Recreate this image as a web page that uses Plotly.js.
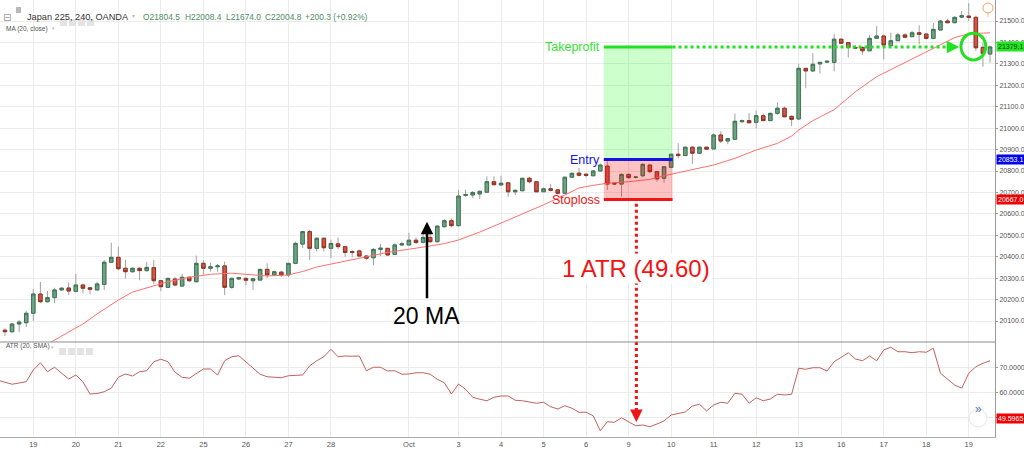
<!DOCTYPE html>
<html><head><meta charset="utf-8">
<script src="https://cdn.plot.ly/plotly-3.0.1.min.js"></script>
<style>html,body{margin:0;padding:0;background:#fff;overflow:hidden}#chart{width:1024px;height:451px}</style>
</head><body><div id="chart"></div>
<script>
// ---------------- DATA ----------------
const firstBarIdx = -4;   // bar index of the first visible 4h candle (bar 0 = first bar of Sep 19)
const opens  = [20057,20050,20086,20092,20136,20226,20190,20209,20245,20254,20238,20268,20255,20245,20271,20374,20397,20346,20330,20346,20335,20349,20288,20257,20296,20263,20304,20283,20369,20346,20353,20357,20257,20296,20299,20288,20291,20341,20315,20328,20315,20369,20459,20517,20439,20486,20439,20460,20447,20424,20427,20403,20395,20434,20439,20411,20455,20455,20477,20467,20490,20470,20540,20568,20545,20686,20688,20693,20701,20750,20735,20745,20703,20708,20766,20750,20703,20717,20712,20696,20771,20790,20785,20778,20800,20823,20742,20739,20784,20770,20778,20828,20797,20766,20817,20878,20872,20911,20883,20911,20903,20968,20940,20948,21030,21035,21027,21058,21035,21069,21093,21055,21043,21279,21267,21300,21308,21307,21415,21399,21376,21376,21361,21419,21430,21385,21408,21435,21427,21445,21439,21419,21458,21500,21492,21518,21523,21517,21377,21346];
const highs  = [20066,20090,20105,20148,20250,20282,20240,20255,20258,20280,20319,20275,20258,20283,20385,20465,20447,20385,20350,20350,20375,20385,20290,20302,20305,20320,20309,20405,20384,20372,20366,20377,20302,20305,20302,20298,20343,20369,20335,20332,20372,20470,20520,20525,20490,20490,20480,20490,20450,20430,20433,20408,20440,20460,20440,20462,20470,20512,20490,20520,20509,20543,20575,20579,20712,20712,20706,20711,20775,20775,20778,20746,20712,20766,20772,20752,20722,20740,20716,20771,20795,20815,20788,20805,20835,20845,20746,20790,20790,20774,20836,20832,20800,20820,20878,20929,20914,20915,20914,20914,20975,20985,20955,21068,21040,21070,21082,21068,21072,21120,21100,21058,21300,21280,21350,21310,21314,21440,21420,21400,21388,21382,21435,21476,21437,21445,21445,21443,21455,21480,21441,21491,21505,21510,21522,21547,21583,21525,21399,21385];
const lows   = [20030,20045,20048,20072,20100,20183,20185,20183,20240,20222,20237,20230,20225,20243,20245,20371,20338,20299,20325,20290,20330,20272,20240,20255,20262,20260,20283,20282,20316,20330,20330,20221,20250,20292,20265,20245,20289,20300,20310,20305,20305,20365,20440,20385,20425,20425,20394,20435,20400,20397,20398,20385,20360,20403,20403,20410,20450,20452,20460,20462,20465,20468,20537,20537,20540,20680,20673,20669,20698,20733,20732,20680,20688,20705,20742,20703,20703,20705,20690,20694,20769,20775,20770,20775,20795,20711,20735,20680,20764,20764,20770,20790,20750,20745,20815,20859,20870,20833,20880,20898,20902,20930,20925,20945,21025,21023,20999,21033,21033,21063,21053,21010,21040,21186,21265,21255,21305,21265,21396,21330,21370,21342,21360,21418,21321,21383,21406,21423,21424,21391,21414,21416,21455,21490,21490,21515,21500,21360,21287,21305];
const closes = [20050,20086,20095,20136,20226,20190,20209,20245,20253,20240,20268,20253,20248,20273,20374,20397,20344,20330,20346,20335,20350,20288,20260,20299,20268,20304,20288,20369,20346,20353,20357,20257,20299,20303,20290,20297,20341,20315,20330,20315,20369,20462,20517,20439,20486,20442,20462,20447,20420,20420,20403,20393,20434,20440,20408,20455,20460,20477,20466,20490,20470,20543,20568,20545,20683,20690,20700,20705,20750,20736,20743,20703,20710,20766,20750,20703,20717,20710,20696,20771,20789,20780,20780,20800,20828,20739,20740,20784,20769,20772,20831,20797,20763,20820,20878,20872,20911,20883,20911,20902,20968,20940,20951,21032,21035,21025,21058,21035,21069,21093,21053,21041,21279,21267,21298,21307,21312,21415,21396,21376,21374,21361,21419,21430,21388,21408,21435,21424,21445,21438,21419,21461,21500,21492,21517,21525,21517,21375,21349,21379];

// 20-period moving average
const maIdx  = [-4,2,5,7,9,12,14,17,19,22,25,28,31,33,36,38,40,45,50,55,58,60,63,66,69,72,75,77,79,81,84,87,90,93,96,99,102,105,107,108,110,113,116,119,122,125,128,130,132,135];
const maVals = [19880,19993,20049,20086,20133,20198,20235,20265,20283,20304,20318,20323,20315,20310,20315,20331,20352,20387,20420,20445,20461,20478,20515,20557,20599,20642,20688,20721,20733,20743,20750,20761,20785,20806,20828,20859,20898,20929,20963,20991,21035,21086,21170,21240,21290,21340,21389,21422,21441,21445];

// ATR(20, SMA) per bar, starting one bar before the first candle
const atrFirstIdx = -5;
const atrVals = [64.8,64.0,63.2,63.7,64.2,68.9,71.8,68.2,70.0,67.6,65.3,66.9,64.2,59.3,59.5,60.2,61.6,66.0,67.3,66.5,68.2,68.6,72.2,73.2,72.2,68.0,66.0,65.6,67.6,69.3,69.3,66.9,72.6,74.2,74.6,72.2,69.6,67.2,66.2,66.0,65.8,66.6,66.8,66.9,70.6,72.6,74.2,77.2,74.2,74.5,74.4,74.5,68.6,70.0,70.0,68.5,68.6,67.2,67.3,67.8,67.8,67.2,65.2,63.8,59.3,63.3,61.2,58.0,57.2,56.6,58.0,58.5,58.5,56.8,56.6,56.0,55.6,56.0,54.2,53.3,54.6,53.6,52.0,52.0,50.6,44.6,48.2,48.0,49.8,48.2,46.6,46.9,46.2,47.3,48.5,50.9,51.6,52.1,54.5,55.2,52.5,54.9,56.0,55.6,59.6,59.2,55.6,57.8,56.6,57.3,59.2,58.9,59.2,69.6,69.2,69.8,69.8,68.5,72.2,74.0,75.8,73.3,72.6,74.5,72.6,76.9,78.0,76.2,76.2,75.8,76.2,76.0,77.6,67.6,65.2,62.9,61.6,67.6,70.2,71.6,72.6];

// day labels on the time axis (bar index of first bar of each day)
const dayTickIdx  = [0,6,12,18,24,30,36,42,53,60,66,72,78,84,90,96,102,108,114,120,126,132];
const dayTickText = ['19','20','21','22','25','26','27','28','Oct','3','4','5','6','9','10','11','12','13','16','17','18','19'];

// ATR axis ticks (50 level is hidden behind the red value tag)
const atrTickVals = [50, 60, 70];
const atrTickText = ['', '60.0000', '70.0000'];

// trade set-up
const takeProfit = 21379.1, entryPrice = 20853.1, stopLoss = 20667.0;
const atrAtEntry = 49.5965, atrText = '1 ATR (49.60)';
const tradeStartIdx = 80.5, tradeEndIdx = 90.2, tpArrowIdx = 130.66, slDropIdx = 85.1, atrArrowTip = 48.1;
const circleIdx = [130.9, 134.4], circlePrice = [21318, 21443];
const maArrowIdx = 55.55, maArrowTip = 20563, maTextPrice = 20123, atrTextPrice = 20343;

const priceRange = [20002, 21598];
const atrRange = [42.1, 80.1];

// header
const symbolText = 'Japan 225, 240, OANDA';
const ohlcText = ['O21804.5','H22008.4','L21674.0','C22004.8','+200.3 (+0.92%)'];
const ohlcX = [141,183,224,263,303];

// ---------------- BUILD ----------------
const bars = closes.map((_, i) => i + firstBarIdx);
const atrX = atrVals.map((_, i) => i + atrFirstIdx);
const bodyHigh = opens.map((o, i) => Math.max(o, closes[i]));
const bodyLow  = opens.map((o, i) => Math.min(o, closes[i]));
const priceTicks = [];
for (let p = 20100; p <= 21600; p += 100) priceTicks.push(p);

const FONT = 'Liberation Sans, Arial, sans-serif';
const PW = 995, PH = 437;
const px = v => v / PW, py = v => 1 - v / PH;

const wickTrace = {
  type: 'candlestick', x: bars, open: opens, high: highs, low: lows, close: closes,
  increasing: {line: {color: '#a0a0a0', width: 1}, fillcolor: '#a0a0a0'},
  decreasing: {line: {color: '#a0a0a0', width: 1}, fillcolor: '#a0a0a0'},
  hoverinfo: 'skip', showlegend: false, xaxis: 'x', yaxis: 'y'
};
const bodyTrace = {
  type: 'candlestick', x: bars, open: opens, high: bodyHigh, low: bodyLow, close: closes,
  increasing: {line: {color: '#3f7454', width: 1}, fillcolor: '#6ba583'},
  decreasing: {line: {color: '#8e3325', width: 1}, fillcolor: '#d75442'},
  hoverinfo: 'skip', showlegend: false, xaxis: 'x', yaxis: 'y'
};
const maTrace = {type: 'scatter', mode: 'lines', x: maIdx, y: maVals, line: {color: '#ff6f6f', width: 1}, hoverinfo: 'skip', showlegend: false, xaxis: 'x', yaxis: 'y'};
const atrTrace = {type: 'scatter', mode: 'lines', x: atrX, y: atrVals, line: {color: '#c0625c', width: 1}, hoverinfo: 'skip', showlegend: false, xaxis: 'x', yaxis: 'y2'};

const GREEN = '#22e022', BLUE = '#1414e6', RED = '#f01414';
const shapes = [
  {type: 'rect', xref: 'x', yref: 'y', x0: tradeStartIdx, x1: tradeEndIdx, y0: entryPrice, y1: takeProfit, fillcolor: 'rgba(0,255,0,0.2)', line: {width: 0}, layer: 'between'},
  {type: 'rect', xref: 'x', yref: 'y', x0: tradeStartIdx, x1: tradeEndIdx, y0: stopLoss, y1: entryPrice, fillcolor: 'rgba(255,0,0,0.24)', line: {width: 0}, layer: 'above'},
  {type: 'line', xref: 'x', yref: 'y', x0: tradeStartIdx, x1: tradeEndIdx, y0: takeProfit, y1: takeProfit, line: {color: GREEN, width: 3}},
  {type: 'line', xref: 'x', yref: 'y', x0: tradeEndIdx, x1: tpArrowIdx - 1, y0: takeProfit, y1: takeProfit, line: {color: GREEN, width: 3, dash: 'dot'}},
  {type: 'line', xref: 'x', yref: 'y', x0: tradeStartIdx, x1: tradeEndIdx, y0: entryPrice, y1: entryPrice, line: {color: BLUE, width: 3}},
  {type: 'line', xref: 'x', yref: 'y', x0: tradeStartIdx, x1: tradeEndIdx, y0: stopLoss, y1: stopLoss, line: {color: RED, width: 3}},
  {type: 'circle', xref: 'x', yref: 'y', x0: circleIdx[0], x1: circleIdx[1], y0: circlePrice[0], y1: circlePrice[1], line: {color: GREEN, width: 3}},
  {type: 'line', xref: 'x', yref: 'y', x0: slDropIdx, x1: slDropIdx, y0: stopLoss - 20, y1: priceRange[0], line: {color: RED, width: 3, dash: 'dot'}},
  {type: 'line', xref: 'x', yref: 'y2', x0: slDropIdx, x1: slDropIdx, y0: atrRange[1], y1: atrArrowTip + 2, line: {color: RED, width: 3, dash: 'dot'}},
  {type: 'line', xref: 'paper', yref: 'y2 domain', x0: 0, x1: 1, y0: 1, y1: 1, line: {color: '#8c8c8c', width: 1}},
  // header icons
  {type: 'rect', xref: 'paper', yref: 'paper', x0: px(16), x1: px(21), y0: py(13), y1: py(7), fillcolor: '#b8b8b8', line: {width: 0}},
  {type: 'circle', xref: 'paper', yref: 'paper', x0: px(983), x1: px(993), y0: py(13), y1: py(3), line: {color: '#f3a368', width: 1}},
  {type: 'circle', xref: 'paper', yref: 'paper', x0: px(969), x1: px(987), y0: py(427), y1: py(409), fillcolor: '#ffffff', line: {color: '#e6e6e6', width: 1}}
];
[60, 69, 78, 87].forEach(x => shapes.push({type: 'rect', xref: 'paper', yref: 'paper', x0: px(x), x1: px(x + 7), y0: py(26), y1: py(19), fillcolor: '#e3e3e3', line: {width: 0}}));
[59, 68, 77, 86].forEach(x => shapes.push({type: 'rect', xref: 'paper', yref: 'paper', x0: px(x), x1: px(x + 7), y0: py(355), y1: py(348), fillcolor: '#e3e3e3', line: {width: 0}}));

const txt = (text, x, y, opts) => Object.assign({text, x, y, showarrow: false, font: {family: FONT, size: 12, color: '#333'}}, opts);
const annotations = [
  txt('Takeprofit', tradeStartIdx, takeProfit, {xref: 'x', yref: 'y', xanchor: 'right', xshift: -2, font: {family: FONT, size: 12.5, color: '#35e035'}}),
  txt('Entry', tradeStartIdx, entryPrice, {xref: 'x', yref: 'y', xanchor: 'right', xshift: -2, font: {family: FONT, size: 12.5, color: BLUE}}),
  txt('Stoploss', tradeStartIdx, stopLoss, {xref: 'x', yref: 'y', xanchor: 'right', xshift: -2, font: {family: FONT, size: 12.5, color: RED}}),
  txt(atrText, slDropIdx, atrTextPrice, {xref: 'x', yref: 'y', xanchor: 'center', yanchor: 'middle', bgcolor: '#ffffff', font: {family: FONT, size: 24, color: RED}}),
  txt('20 MA', maArrowIdx, maTextPrice, {xref: 'x', yref: 'y', xanchor: 'center', yanchor: 'middle', font: {family: FONT, size: 23, color: '#000'}}),
  {xref: 'x', yref: 'y', x: maArrowIdx, y: maArrowTip, ax: 0, ay: 78, text: '', showarrow: true, arrowhead: 2, arrowsize: 1, arrowwidth: 2.5, arrowcolor: '#000'},
  {xref: 'x', yref: 'y', x: tpArrowIdx, y: takeProfit, ax: -12, ay: 0, text: '', showarrow: true, arrowhead: 2, arrowsize: 1, arrowwidth: 2.5, arrowcolor: GREEN},
  {xref: 'x', yref: 'y2', x: slDropIdx, y: atrArrowTip, ax: 0, ay: -10, text: '', showarrow: true, arrowhead: 2, arrowsize: 1, arrowwidth: 2.5, arrowcolor: RED},
  // right-axis price labels
  txt(takeProfit.toFixed(1), 1, takeProfit, {xref: 'paper', yref: 'y', xanchor: 'left', xshift: 1, bgcolor: '#22e622', borderpad: 1, font: {family: FONT, size: 7, color: '#1a3a1a'}}),
  txt(entryPrice.toFixed(1), 1, entryPrice, {xref: 'paper', yref: 'y', xanchor: 'left', xshift: 1, bgcolor: '#0000f0', borderpad: 1, font: {family: FONT, size: 7, color: '#fff'}}),
  txt(stopLoss.toFixed(1), 1, stopLoss, {xref: 'paper', yref: 'y', xanchor: 'left', xshift: 1, bgcolor: '#f00000', borderpad: 1, font: {family: FONT, size: 7, color: '#fff'}}),
  txt(atrAtEntry.toFixed(4), 1, atrAtEntry, {xref: 'paper', yref: 'y2', xanchor: 'left', xshift: 1, bgcolor: '#f00000', borderpad: 1, font: {family: FONT, size: 7, color: '#fff'}}),
  // header text
  txt('⊟', px(7), py(10), {xref: 'paper', yref: 'paper', xanchor: 'center', font: {family: 'DejaVu Sans', size: 10, color: '#999'}}),
  txt(symbolText, px(25), py(10), {xref: 'paper', yref: 'paper', xanchor: 'left', font: {family: FONT, size: 9.2, color: '#333'}}),
  txt('▾', px(133), py(10), {xref: 'paper', yref: 'paper', xanchor: 'center', font: {family: 'DejaVu Sans', size: 6, color: '#bbb'}}),
  txt('MA (20, close)', px(4), py(22.5), {xref: 'paper', yref: 'paper', xanchor: 'left', font: {family: FONT, size: 6.5, color: '#555'}}),
  txt('▾', px(53), py(22.5), {xref: 'paper', yref: 'paper', xanchor: 'center', font: {family: 'DejaVu Sans', size: 5, color: '#bbb'}}),
  txt('ATR (20, SMA)', px(4), py(351.5), {xref: 'paper', yref: 'paper', xanchor: 'left', font: {family: FONT, size: 6.5, color: '#555'}}),
  txt('▾', px(52), py(351.5), {xref: 'paper', yref: 'paper', xanchor: 'center', font: {family: 'DejaVu Sans', size: 5, color: '#bbb'}}),
  txt('!', px(988), py(8), {xref: 'paper', yref: 'paper', xanchor: 'center', font: {family: FONT, size: 8, color: '#f3a368'}}),
  txt('»', px(978), py(417.5), {xref: 'paper', yref: 'paper', xanchor: 'center', font: {family: FONT, size: 12, color: '#5a78a8'}})
];
ohlcText.forEach((t, i) => annotations.push(txt(t, px(ohlcX[i]), py(10), {xref: 'paper', yref: 'paper', xanchor: 'left', font: {family: FONT, size: 8.4, color: '#4e8d61'}})));

const axisFont = {family: FONT, size: 7, color: '#555'};
const GRID = '#ececec';
const layout = {
  width: 1024, height: 451,
  margin: {l: 0, r: 29, t: 0, b: 14, pad: 0},
  paper_bgcolor: '#fff', plot_bgcolor: '#fff',
  showlegend: false, dragmode: false,
  xaxis: {range: [-4.7, 135.7], anchor: 'y2', tickvals: dayTickIdx, ticktext: dayTickText, tickfont: {family: FONT, size: 7.5, color: '#555'},
          showgrid: true, gridcolor: GRID, zeroline: false, showline: true, linecolor: '#aaa', ticks: '',
          rangeslider: {visible: false}, fixedrange: true},
  yaxis: {domain: [0.2174, 1], side: 'right', range: priceRange, tickvals: priceTicks, tickformat: '.1f',
          tickfont: axisFont, ticks: 'outside', ticklen: 2, tickcolor: '#999', showline: true, linecolor: '#999',
          gridcolor: GRID, zeroline: false, fixedrange: true},
  yaxis2: {domain: [0, 0.2174], side: 'right', range: atrRange, tickvals: atrTickVals, ticktext: atrTickText,
          tickfont: axisFont, ticks: 'outside', ticklen: 2, tickcolor: '#999', showline: true, linecolor: '#999',
          gridcolor: GRID, zeroline: false, fixedrange: true},
  shapes, annotations
};
Plotly.newPlot('chart', [wickTrace, bodyTrace, maTrace, atrTrace], layout, {staticPlot: true, displayModeBar: false});
</script></body></html>
